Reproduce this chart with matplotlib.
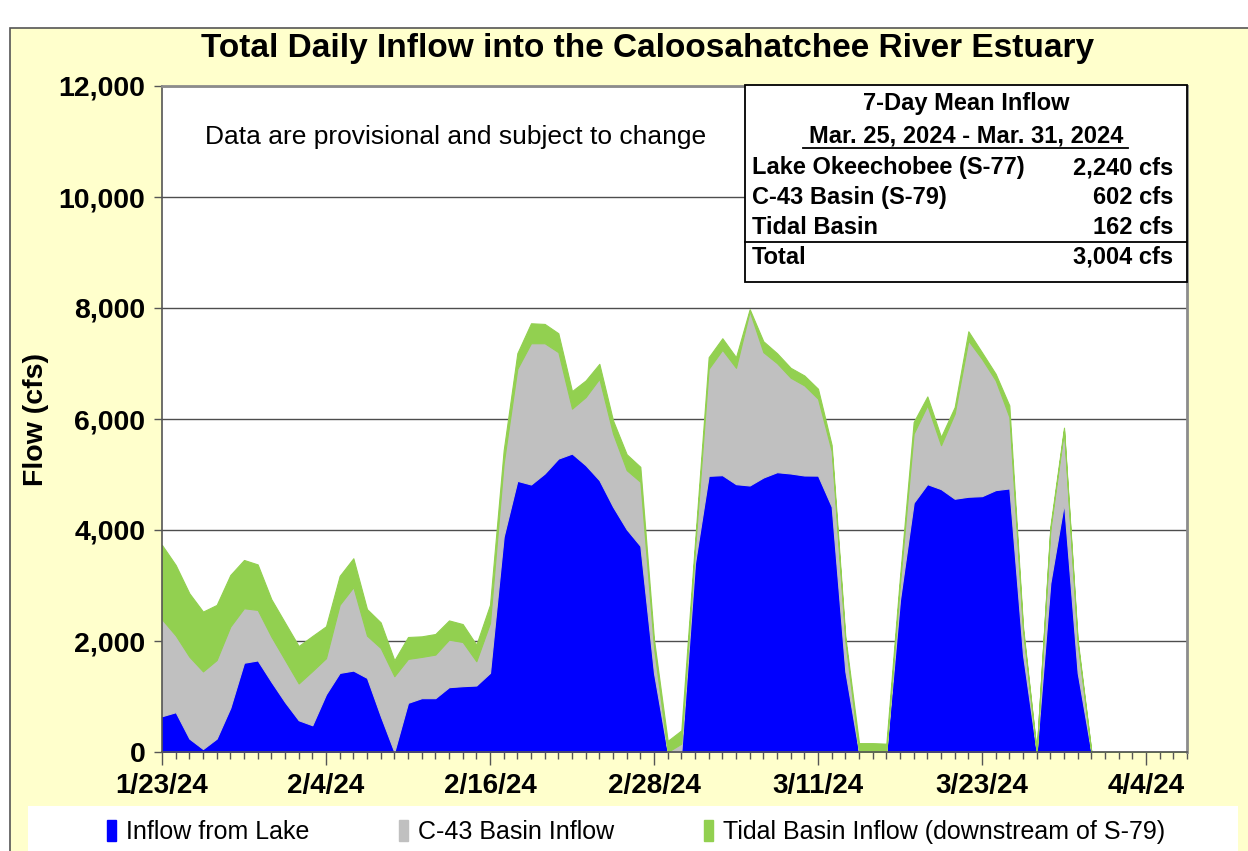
import matplotlib.pyplot as plt
import matplotlib.patches as mpatches
from matplotlib.lines import Line2D
from matplotlib.ticker import MultipleLocator, FuncFormatter
import pandas as pd

plt.rcParams['font.family'] = ['Liberation Sans', 'DejaVu Sans']

# daily flows (cfs), starting 1/23/24
start = pd.Timestamp('2024-01-23')
lake = [645, 717, 241, 54, 241, 795, 1608, 1650, 1265, 898, 572, 482,
        1040, 1425, 1467, 1335, 647, 0, 886, 970, 970, 1168, 1186, 1198,
        1425, 3880, 4886, 4820, 5018, 5287, 5377, 5168, 4898, 4419, 4012, 3713,
        1420, 0, 0, 3400, 4976, 4988, 4826, 4802, 4946, 5042, 5018, 4982,
        4980, 4420, 1450, 0, 0, 0, 2740, 4491, 4826, 4737, 4563, 4599,
        4610, 4719, 4749, 1750, 0, 3042, 4479, 1425, 0, 0, 0, 0,
        0, 0, 0, 0]
c43 = [1745, 1383, 1476, 1398, 1416, 1465, 982, 910, 813, 759, 663, 976,
       650, 1228, 1503, 761, 1227, 1365, 791, 743, 785, 856, 796, 437,
       898, 1318, 2018, 2545, 2347, 1917, 809, 1227, 1827, 1318, 1066, 1155,
       460, 0, 150, 250, 1928, 2258, 2096, 3138, 2258, 1964, 1725, 1623,
       1385, 1000, 550, 0, 0, 0, 300, 1246, 1419, 790, 1533, 2814,
       2470, 1976, 1287, 450, 0, 958, 1317, 539, 0, 0, 0, 0,
       0, 0, 0, 0]
tidal = [1340, 1270, 1143, 1078, 993, 930, 870, 820, 675, 674, 675, 632,
         575, 521, 521, 479, 461, 288, 395, 371, 371, 347, 323, 299,
         330, 239, 282, 360, 348, 341, 317, 300, 269, 239, 287, 270,
         150, 200, 240, 130, 210, 209, 192, 40, 197, 180, 179, 179,
         180, 110, 80, 160, 160, 150, 120, 209, 162, 150, 119, 168,
         120, 119, 209, 60, 0, 60, 48, 60, 0, 0, 0, 0,
         0, 0, 0, 0]
series_names = ['Inflow from Lake', 'C-43 Basin Inflow',
                'Tidal Basin Inflow (downstream of S-79)']
colors = ['#0000FF', '#C0C0C0', '#92D050']

table_title = '7-Day Mean Inflow'
table_period = 'Mar. 25, 2024 - Mar. 31, 2024'
table_rows = ['Lake Okeechobee (S-77)', 'C-43 Basin (S-79)', 'Tidal Basin']
table_vals = ['2,240 cfs', '602 cfs', '162 cfs']
table_total = '3,004 cfs'

days = list(range(len(lake)))
tick_days = list(range(0, 73, 12))
tick_labels = [f"{d.month}/{d.day}/{d:%y}" for d in pd.date_range(start, periods=7, freq='12D')]

fig = plt.figure(figsize=(12.48, 8.51), dpi=100, facecolor='white')
W, H = 1248, 851

# yellow chart area and white legend strip
fig.add_artist(mpatches.Rectangle((10 / W, -0.01), 1.0, 1 - 28 / H + 0.01,
                                  transform=fig.transFigure, facecolor='#FFFFCC',
                                  edgecolor='#555555', lw=1.2, zorder=-2))
fig.add_artist(mpatches.Rectangle((28 / W, -0.01), (1238 - 28) / W, 1 - 806 / H + 0.01,
                                  transform=fig.transFigure, facecolor='white',
                                  edgecolor='none', zorder=-1))

ax = fig.add_axes([162 / W, 1 - 752 / H, (1187 - 162) / W, (752 - 86) / H])
ax.set_facecolor('white')

polys = ax.stackplot(days, lake, c43, tidal, colors=colors, labels=series_names, zorder=2)
for p, c in zip(polys, colors):
    p.set_edgecolor(c)
    p.set_linewidth(0.8)

ax.set_xlim(0, 75)
ax.set_ylim(0, 12000)
ax.yaxis.set_major_locator(MultipleLocator(2000))
ax.yaxis.set_major_formatter(FuncFormatter(lambda v, p: f'{v:,.0f}'))
ax.set_xticks(tick_days)
ax.set_xticklabels(tick_labels)
ax.xaxis.set_minor_locator(MultipleLocator(1))
ax.grid(axis='y', color='#4d4d4d', lw=1.0, zorder=1)
ax.set_axisbelow(True)

ax.tick_params(axis='x', which='major', length=9, width=1, color='#555555',
               labelsize=20, pad=6)
ax.tick_params(axis='x', which='minor', length=5, width=1, color='#555555')
ax.tick_params(axis='y', length=6, width=1, color='#555555', labelsize=20.5, pad=6)
for lab in ax.get_xticklabels() + ax.get_yticklabels():
    lab.set_fontweight('bold')

for side in ['left', 'bottom']:
    ax.spines[side].set_color('#555555')
    ax.spines[side].set_linewidth(1.2)
for side in ['top', 'right']:
    ax.spines[side].set_color('#8c8c8c')
    ax.spines[side].set_linewidth(2)

ax.set_ylabel('Flow (cfs)', fontsize=20.5, fontweight='bold')
ax.yaxis.set_label_coords(-0.110, 0.5)

fig.text(648 / W, 1 - 48 / H, 'Total Daily Inflow into the Caloosahatchee River Estuary',
         ha='center', va='center', fontsize=24, fontweight='bold')

ax.text(0.2868, 0.9234, 'Data are provisional and subject to change',
        transform=ax.transAxes, ha='center', va='center', fontsize=19, zorder=5)

# 7-day mean table
x0 = (745 - 162) / 1025
ax.add_patch(mpatches.Rectangle((x0, (752 - 282) / 666), 1 - x0, 1 - (752 - 282) / 666 + 0.002,
                                transform=ax.transAxes, facecolor='white',
                                edgecolor='black', lw=1.3, zorder=6, clip_on=False))
ax.text(0.7844, 0.9744, table_title, transform=ax.transAxes, ha='center', va='center',
        fontsize=17, fontweight='bold', zorder=7)
ax.text(0.7844, 0.9244, table_period, transform=ax.transAxes, ha='center', va='center',
        fontsize=17, fontweight='bold', zorder=7)
ax.add_line(Line2D([0.6254, 0.9424], [0.9069, 0.9069], transform=ax.transAxes,
                   color='black', lw=1.3, zorder=7))
row_y = [0.8774, 0.8328, 0.7877]
for name, val, yy in zip(table_rows, table_vals, row_y):
    ax.text(0.5753, yy, name, transform=ax.transAxes, ha='left', va='center',
            fontsize=17, fontweight='bold', zorder=7)
    ax.text(0.9863, yy, val, transform=ax.transAxes, ha='right', va='center',
            fontsize=17, fontweight='bold', zorder=7)
ax.add_line(Line2D([x0, 1.0], [0.7658, 0.7658], transform=ax.transAxes,
                   color='black', lw=1.3, zorder=7))
ax.text(0.5753, 0.7427, 'Total', transform=ax.transAxes, ha='left', va='center',
        fontsize=17, fontweight='bold', zorder=7)
ax.text(0.9863, 0.7427, table_total, transform=ax.transAxes, ha='right', va='center',
        fontsize=17, fontweight='bold', zorder=7)

handles = [mpatches.Patch(color=c) for c in colors]
fig.legend(handles, series_names, loc='center', bbox_to_anchor=(636 / W, 1 - 832 / H),
           ncol=3, frameon=False, fontsize=18, handlelength=0.35, handleheight=0.9,
           handletextpad=0.4, columnspacing=3.6)

fig.savefig('out.png', dpi=100, facecolor=fig.get_facecolor())
